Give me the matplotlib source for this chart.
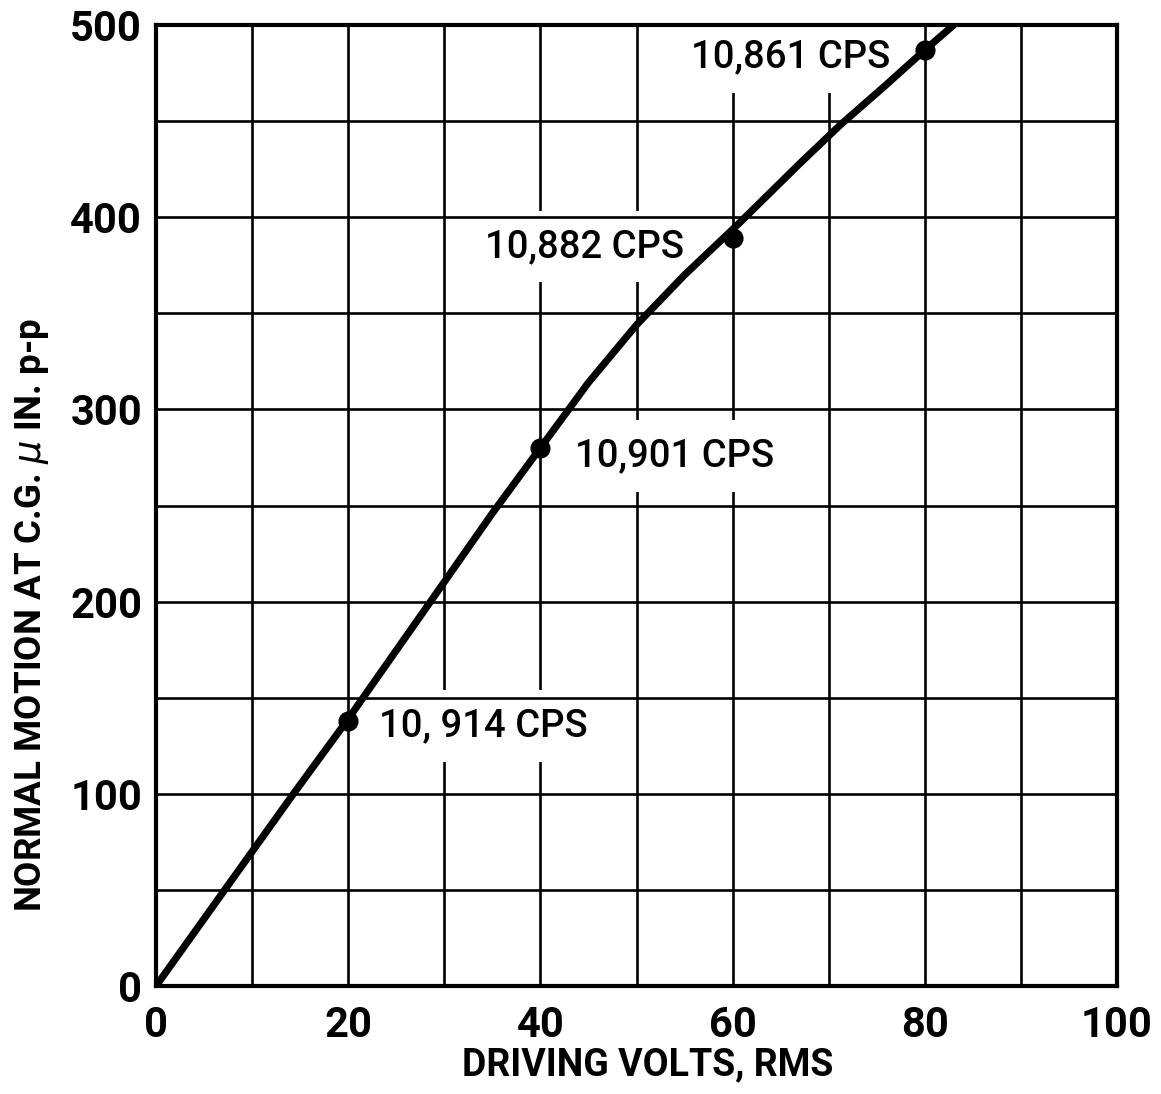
import numpy as np
import matplotlib
matplotlib.use("Agg")
import matplotlib.pyplot as plt

# Measured resonance points: driving voltage vs. normal motion
volts = [20, 40, 60, 80]
motion = [138, 280, 389, 487]
freq_labels = ["10, 914 CPS", "10,901 CPS", "10,882 CPS", "10,861 CPS"]

# Hand-faired curve through the measurements
curve_volts = [0, 7, 14.3, 20, 28, 35, 40, 45, 50, 55, 60.7, 67, 71.2, 76, 80, 83]
curve_motion = [0, 49, 100, 139, 196, 246, 280, 314, 344, 370, 397, 428, 448, 469, 487, 500]

x_ticks = [0, 20, 40, 60, 80, 100]
y_ticks = [0, 100, 200, 300, 400, 500]
x_grid = np.arange(10, 100, 10)
y_grid = np.arange(50, 500, 50)

FONT = "Roboto"

fig = plt.figure(figsize=(11.61, 10.94), dpi=100)
ax = fig.add_axes([0.1344, 0.0987, 0.8277, 0.8784])
ax.set_xlim(0, 100)
ax.set_ylim(0, 500)

# grid: vertical rules sit under the labels, horizontal rules over them
ax.vlines(x_grid, 0, 500, colors="black", linewidth=1.9, zorder=1)
ax.hlines(y_grid, 0, 100, colors="black", linewidth=1.9, zorder=2.6)

ax.plot(curve_volts, curve_motion, color="black", linewidth=5.2,
        solid_capstyle="round", solid_joinstyle="round", zorder=4,
        clip_on=True)
ax.plot(volts, motion, "o", color="black", markersize=13.5, zorder=5,
        clip_on=False)

offsets = [(22, -1), (25, -3), (-35, -3), (-25, -2)]
aligns = ["left", "left", "right", "right"]
for v, m, lab, off, ha in zip(volts, motion, freq_labels, offsets, aligns):
    ax.annotate(lab, xy=(v, m), xytext=off, textcoords="offset points",
                ha=ha, va="center_baseline", fontsize=27.5, family=FONT,
                fontweight="medium", color="black", zorder=2.5,
                annotation_clip=False, clip_on=True,
                bbox=dict(boxstyle="square,pad=0.45", fc="white", ec="none"))

for side in ["left", "right", "top", "bottom"]:
    ax.spines[side].set_linewidth(3.0)
    ax.spines[side].set_zorder(6)

ax.set_xticks(x_ticks)
ax.set_yticks(y_ticks)
ax.tick_params(length=0, labelsize=30)
ax.tick_params(axis="x", pad=14)
ax.tick_params(axis="y", pad=10)
for t in ax.get_xticklabels() + ax.get_yticklabels():
    t.set_family(FONT)
    t.set_fontweight("bold")

ax.text(0.512, -0.082, "DRIVING VOLTS, RMS", transform=ax.transAxes,
        ha="center", va="center", fontsize=27, family=FONT,
        fontweight="bold")
ax.text(-0.129, 0.386, "NORMAL MOTION AT C.G. $\\mu$ IN. p-p",
        transform=ax.transAxes, rotation=90, ha="center", va="center",
        fontsize=26.5, family=FONT, fontweight="bold")

fig.savefig("out.png", dpi=100, facecolor="white")
